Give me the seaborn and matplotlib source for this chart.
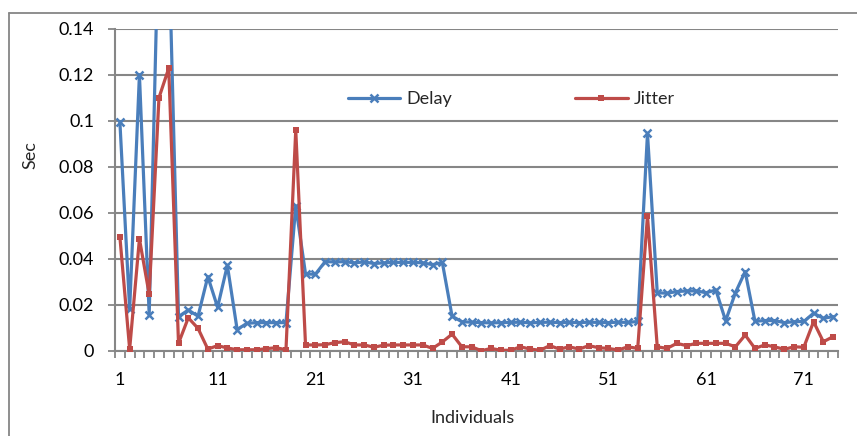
import numpy as np
import pandas as pd
import matplotlib
matplotlib.use("Agg")
import matplotlib.pyplot as plt
from matplotlib.lines import Line2D
from matplotlib.ticker import FixedLocator
import seaborn as sns

individuals = list(range(1, 75))

delay = [
    0.0995, 0.0180, 0.1200, 0.0155, 0.1900, 0.1780, 0.0148, 0.0177, 0.0150, 0.0322,
    0.0189, 0.0371, 0.0092, 0.0119, 0.0122, 0.0122, 0.0122, 0.0122, 0.0630, 0.0334,
    0.0332, 0.0387, 0.0386, 0.0387, 0.0382, 0.0386, 0.0379, 0.0382, 0.0384, 0.0384,
    0.0384, 0.0382, 0.0374, 0.0384, 0.0150, 0.0126, 0.0124, 0.0122, 0.0121, 0.0122,
    0.0123, 0.0124, 0.0121, 0.0123, 0.0124, 0.0122, 0.0123, 0.0122, 0.0124, 0.0123,
    0.0122, 0.0124, 0.0123, 0.0127, 0.0945, 0.0252, 0.0250, 0.0257, 0.0260, 0.0260,
    0.0252, 0.0264, 0.0130, 0.0252, 0.0344, 0.0128, 0.0131, 0.0131, 0.0122, 0.0126,
    0.0127, 0.0163, 0.0141, 0.0148,
]

jitter = [
    0.0495, 0.0007, 0.0486, 0.0245, 0.1100, 0.1228, 0.0032, 0.0143, 0.0097, 0.0007,
    0.0022, 0.0012, 0.0004, 0.0004, 0.0004, 0.0009, 0.0013, 0.0004, 0.0960, 0.0025,
    0.0025, 0.0026, 0.0035, 0.0039, 0.0025, 0.0025, 0.0015, 0.0024, 0.0025, 0.0025,
    0.0025, 0.0025, 0.0010, 0.0038, 0.0072, 0.0017, 0.0017, 0.0000, 0.0010, 0.0002,
    0.0002, 0.0017, 0.0007, 0.0002, 0.0022, 0.0007, 0.0017, 0.0007, 0.0022, 0.0013,
    0.0010, 0.0003, 0.0017, 0.0010, 0.0586, 0.0017, 0.0010, 0.0032, 0.0022, 0.0032,
    0.0032, 0.0032, 0.0032, 0.0017, 0.0068, 0.0010, 0.0025, 0.0017, 0.0006, 0.0017,
    0.0015, 0.0126, 0.0039, 0.0061,
]

y_ticks = [0, 0.02, 0.04, 0.06, 0.08, 0.1, 0.12, 0.14]
y_tick_labels = ["0", "0.02", "0.04", "0.06", "0.08", "0.1", "0.12", "0.14"]
x_tick_positions = [1, 11, 21, 31, 41, 51, 61, 71]

BLUE = "#4A7EBB"
RED = "#BE4B48"
GRID = "#868686"

sns.set_style("white")
plt.rcParams["font.family"] = ["Lato", "DejaVu Sans"]

fig = plt.figure(figsize=(8.57, 4.36), dpi=100)
ax = fig.add_axes([115 / 857, 1 - 350.7 / 436, (838 - 115) / 857, (350.7 - 28.7) / 436])

df = pd.DataFrame({"Individuals": individuals, "Delay": delay, "Jitter": jitter})

sns.lineplot(data=df, x="Individuals", y="Delay", ax=ax, color=BLUE, lw=2.3,
             marker="x", markersize=6, markeredgewidth=1.8, markeredgecolor=BLUE,
             label="Delay", zorder=3)
sns.lineplot(data=df, x="Individuals", y="Jitter", ax=ax, color=RED, lw=2.3,
             marker="s", markersize=5, markeredgewidth=0, markerfacecolor=RED,
             label="Jitter", zorder=4)

ax.set_xlim(0.5, 74.5)
ax.set_ylim(0, 0.14)

# horizontal gridlines
ax.set_yticks(y_ticks)
ax.set_yticklabels(y_tick_labels)
ax.yaxis.grid(True, color=GRID, lw=1.5)
ax.xaxis.grid(False)
ax.set_axisbelow(True)

# category axis: tick marks between categories, labels every 10
ax.xaxis.set_major_locator(FixedLocator(x_tick_positions))
ax.xaxis.set_minor_locator(FixedLocator(np.arange(0.5, 75, 1.0)))
ax.set_xticklabels([str(v) for v in x_tick_positions])
ax.tick_params(axis="x", which="major", length=0, pad=15, labelsize=13, colors="black")
ax.tick_params(axis="x", which="minor", length=5, width=1.3, color=GRID, direction="out")
ax.tick_params(axis="y", which="major", length=5, width=1.3, color=GRID, direction="out",
               pad=10, labelsize=13, labelcolor="black")
ax.tick_params(bottom=True, left=True, which="both")

for side in ["top", "right"]:
    ax.spines[side].set_visible(False)
for side in ["left", "bottom"]:
    ax.spines[side].set_color(GRID)
    ax.spines[side].set_linewidth(1.5)

ax.set_xlabel("Individuals", fontsize=13, labelpad=12)
ax.set_ylabel("Sec", fontsize=13, labelpad=10)
ax.yaxis.set_label_coords(38 / 857, 1 - 155 / 436, transform=fig.transFigure)
ax.xaxis.set_label_coords(472 / 857, 1 - 410 / 436, transform=fig.transFigure)

leg = ax.legend(loc="center left", bbox_to_anchor=(348 / 857, 1 - 99 / 436),
                bbox_transform=fig.transFigure, ncol=2, frameon=False, fontsize=13,
                handlelength=2.9, handletextpad=0.35, columnspacing=6.8,
                borderpad=0, borderaxespad=0, numpoints=1)

# outer chart frame (top and left edges)
fig.add_artist(Line2D([9 / 857, 1.0], [1 - 13 / 436, 1 - 13 / 436],
                      transform=fig.transFigure, color=GRID, lw=1.3))
fig.add_artist(Line2D([9 / 857, 9 / 857], [0.0, 1 - 13 / 436],
                      transform=fig.transFigure, color=GRID, lw=1.3))

fig.savefig("out.png", dpi=100)
